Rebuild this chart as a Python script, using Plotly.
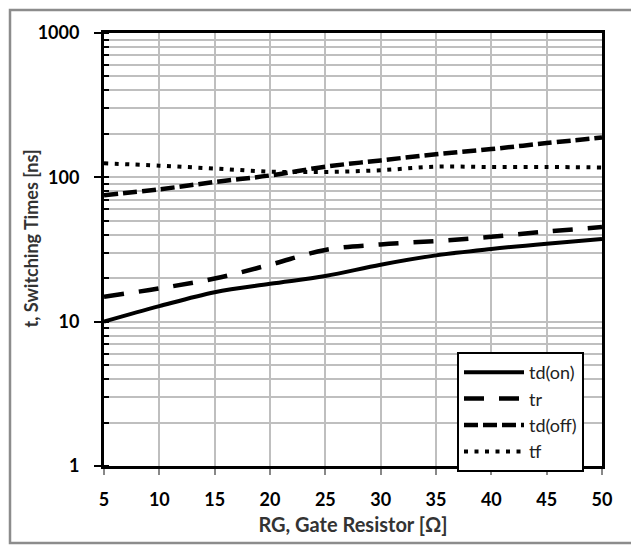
import plotly.graph_objects as go

rg = [5, 10, 15, 20, 25, 30, 35, 40, 45, 50]
td_on = [10.0, 12.8, 16.0, 18.3, 20.7, 24.8, 28.8, 31.9, 34.7, 37.4]
tr = [14.9, 17.0, 19.9, 24.8, 31.4, 34.3, 36.2, 38.7, 42.1, 45.2]
td_off = [75.2, 82.6, 92.8, 103.0, 118.5, 131.0, 144.6, 157.0, 172.7, 188.6]
tf = [125.0, 120.5, 115.0, 109.6, 109.0, 112.0, 118.5, 117.8, 118.0, 117.0]

y_tickvals = [1, 10, 100, 1000]
y_ticktext = ["1", "10", "100", "1000"]
x_tickvals = [5, 10, 15, 20, 25, 30, 35, 40, 45, 50]

FONT = "Lato"

# plot area in figure pixels
L, R, T, B = 96, 594, 25, 458
W, H = 639, 545
pw, ph = R - L, B - T

fig = go.Figure()
series = [
    ("td(on)", td_on, "solid", 4),
    ("tr", tr, "20px,15px", 4.5),
    ("td(off)", td_off, "14px,5px", 4.5),
    ("tf", tf, "4px,6.5px", 4),
]
for name, ys, dash, w in series:
    fig.add_trace(go.Scatter(x=rg, y=ys, mode="lines", name=name,
                             line=dict(color="black", width=w, dash=dash),
                             line_shape="spline"))

grid = "#bfbfbf"
fig.update_xaxes(range=[5, 50], tickvals=x_tickvals, showgrid=True, gridcolor=grid, gridwidth=1.5,
                 showline=True, linecolor="black", linewidth=3, mirror=True,
                 ticks="outside", ticklen=6, tickcolor="#888", tickwidth=1.5,
                 ticklabelstandoff=9,
                 tickfont=dict(family=FONT, size=18, color="black", weight="bold"),
                 title=dict(text="RG, Gate Resistor [Ω]", standoff=10,
                            font=dict(family=FONT, size=20, color="#333", weight="bold")),
                 automargin=False, zeroline=False)
fig.update_yaxes(type="log", range=[0, 3], tickvals=y_tickvals, ticktext=y_ticktext,
                 showgrid=True, gridcolor=grid, gridwidth=1.5,
                 showline=True, linecolor="black", linewidth=3, mirror=True,
                 ticks="outside", ticklen=7, tickcolor="black", tickwidth=2,
                 ticklabelstandoff=11,
                 tickfont=dict(family=FONT, size=18, color="black", weight="bold"),
                 minor=dict(dtick="D1", showgrid=True, gridcolor=grid, gridwidth=1.5,
                            ticks="inside", ticklen=5, tickcolor="black", tickwidth=2),
                 automargin=False, zeroline=False)

fig.add_annotation(text="t, Switching Times [ns]", xref="paper", yref="paper",
                   x=(22 - L) / pw, y=(B - 230.5) / ph, xanchor="center", yanchor="middle",
                   textangle=-90, showarrow=False,
                   font=dict(family=FONT, size=18, color="#333", weight="bold"))

fig.add_shape(type="rect", xref="paper", yref="paper",
              x0=(2 - L) / pw, x1=(629 - L) / pw,
              y0=(B - 535) / ph, y1=(B - 2) / ph,
              line=dict(color="#8c8c8c", width=2.5), layer="below")

fig.update_layout(
    width=W, height=H,
    margin=dict(l=L, r=W - R, t=T, b=H - B),
    paper_bgcolor="white", plot_bgcolor="white",
    showlegend=True,
    legend=dict(x=(449 - L) / pw, y=(B - 344) / ph, xanchor="left", yanchor="top",
                bgcolor="white", bordercolor="black", borderwidth=2,
                font=dict(family=FONT, size=18, color="#222"),
                itemwidth=60, tracegroupgap=0),
)

fig.write_html("out.html")
